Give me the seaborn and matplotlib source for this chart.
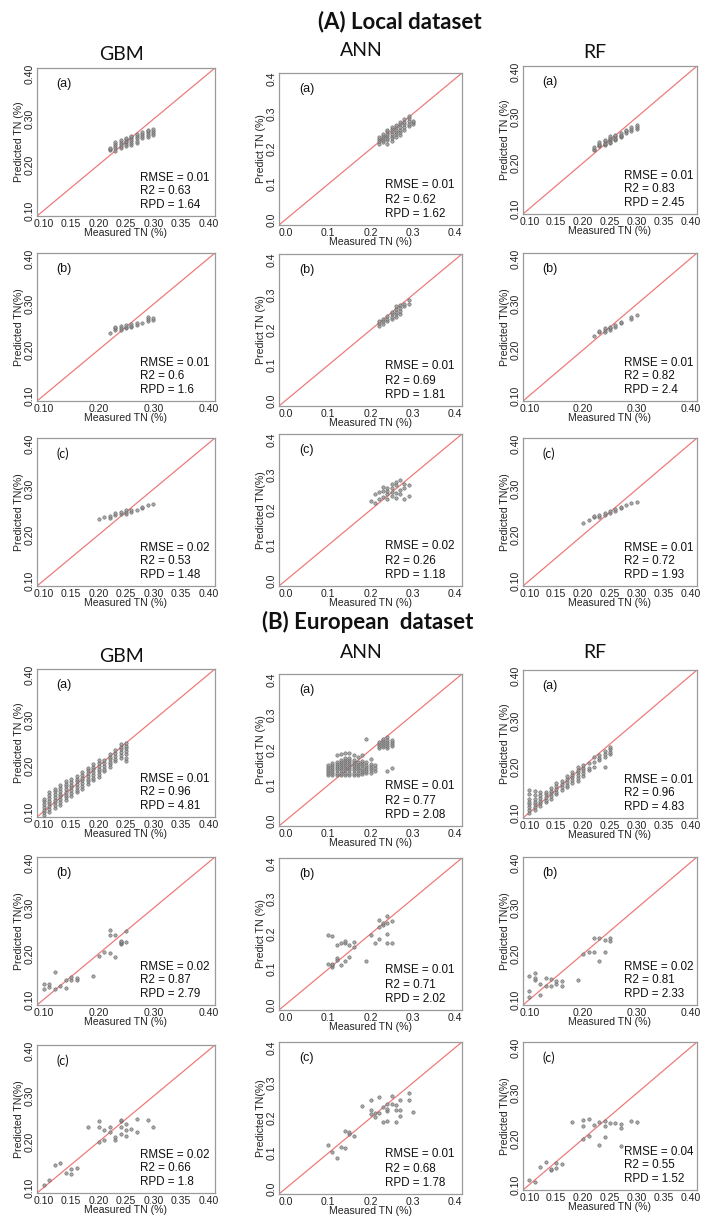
import numpy as np
import pandas as pd
import seaborn as sns
import matplotlib.pyplot as plt

# ---- data: measured TN (x) and predicted TN stacks (y) ----
# (A) local dataset
loc_gbm_a_x = [0.22, 0.23, 0.24, 0.25, 0.26, 0.27, 0.28, 0.29, 0.30]
loc_gbm_a_y = [[0.232, 0.235, 0.237], [0.230, 0.236, 0.241, 0.246, 0.251],
               [0.237, 0.241, 0.245, 0.249, 0.254], [0.241, 0.245, 0.249, 0.253, 0.256, 0.259],
               [0.244, 0.248, 0.252, 0.256, 0.260, 0.264], [0.248, 0.253, 0.258, 0.263, 0.267],
               [0.259, 0.263, 0.267, 0.271], [0.261, 0.266, 0.270, 0.274, 0.277],
               [0.266, 0.270, 0.274, 0.278]]
loc_ann_a_x = [0.22, 0.23, 0.24, 0.25, 0.26, 0.27, 0.28, 0.29, 0.30]
loc_ann_a_y = [[0.215, 0.222, 0.228, 0.234], [0.220, 0.226, 0.232, 0.238, 0.244],
               [0.215, 0.225, 0.232, 0.238, 0.244, 0.250, 0.255],
               [0.222, 0.230, 0.237, 0.243, 0.250, 0.256, 0.262],
               [0.235, 0.242, 0.248, 0.255, 0.262, 0.268], [0.240, 0.248, 0.255, 0.262, 0.270, 0.276],
               [0.255, 0.262, 0.270, 0.278, 0.285], [0.265, 0.272, 0.280, 0.288, 0.295],
               [0.272, 0.276, 0.280]]
loc_rf_a_x = [0.22, 0.23, 0.24, 0.25, 0.26, 0.27, 0.28, 0.29, 0.30]
loc_rf_a_y = [[0.228, 0.231, 0.234], [0.236, 0.239, 0.242, 0.245], [0.238, 0.241, 0.244, 0.247, 0.250],
              [0.243, 0.246, 0.249, 0.252, 0.255, 0.258], [0.249, 0.252, 0.255, 0.258, 0.261],
              [0.256, 0.259, 0.262, 0.265], [0.266, 0.269, 0.272], [0.270, 0.274, 0.278],
              [0.275, 0.279, 0.283]]
loc_gbm_b_x = [0.22, 0.23, 0.24, 0.25, 0.26, 0.27, 0.28, 0.29, 0.30]
loc_gbm_b_y = [[0.236], [0.243, 0.247, 0.250], [0.244, 0.248, 0.252], [0.247, 0.251, 0.255],
               [0.249, 0.253, 0.257], [0.255, 0.259], [0.258], [0.264, 0.268, 0.272], [0.266, 0.270]]
loc_ann_b_x = [0.22, 0.23, 0.24, 0.25, 0.26, 0.27, 0.28, 0.29]
loc_ann_b_y = [[0.212, 0.220, 0.226], [0.218, 0.225, 0.232], [0.225, 0.232, 0.240],
               [0.230, 0.238, 0.246, 0.252], [0.238, 0.245, 0.252, 0.260, 0.268],
               [0.245, 0.255, 0.262, 0.270], [0.268, 0.275], [0.275, 0.285]]
loc_rf_b_x = [0.22, 0.23, 0.24, 0.25, 0.26, 0.27, 0.29, 0.30]
loc_rf_b_y = [[0.231], [0.238, 0.242], [0.240, 0.244, 0.247], [0.244, 0.248, 0.251],
              [0.250, 0.254], [0.258, 0.262], [0.268, 0.272], [0.276]]
loc_gbm_c_x = [0.20, 0.21, 0.22, 0.23, 0.24, 0.25, 0.26, 0.27, 0.28, 0.29, 0.30]
loc_gbm_c_y = [[0.235], [0.240], [0.236, 0.241], [0.244, 0.248], [0.245, 0.250],
               [0.246, 0.250, 0.254], [0.250, 0.254], [0.255], [0.258, 0.262], [0.265], [0.268]]
loc_ann_c_x = [0.20, 0.21, 0.22, 0.23, 0.24, 0.25, 0.26, 0.27, 0.28, 0.29]
loc_ann_c_y = [[0.225], [0.220, 0.245], [0.232, 0.250], [0.238, 0.255, 0.265],
               [0.230, 0.245, 0.255, 0.262], [0.240, 0.250, 0.262, 0.275],
               [0.235, 0.248, 0.270, 0.280], [0.245, 0.258, 0.285], [0.230, 0.262, 0.275],
               [0.240, 0.270]]
loc_rf_c_x = [0.20, 0.21, 0.22, 0.23, 0.24, 0.25, 0.26, 0.27, 0.28, 0.29, 0.30]
loc_rf_c_y = [[0.226], [0.233], [0.238, 0.242], [0.240, 0.244], [0.243, 0.247], [0.248, 0.252],
              [0.253, 0.256], [0.258, 0.262], [0.266], [0.270], [0.272]]

# (B) European dataset
eu_x = [0.10, 0.11, 0.12, 0.13, 0.14, 0.15, 0.16, 0.17, 0.18, 0.19, 0.20, 0.21, 0.22, 0.23, 0.24, 0.25]
eu_gbm_a_y = [[0.092, 0.098, 0.104, 0.110, 0.116, 0.122, 0.128],
              [0.100, 0.106, 0.112, 0.118, 0.124, 0.130, 0.136, 0.142],
              [0.108, 0.114, 0.120, 0.126, 0.132, 0.138, 0.144, 0.150],
              [0.115, 0.121, 0.127, 0.133, 0.139, 0.145, 0.151, 0.157],
              [0.125, 0.131, 0.137, 0.143, 0.149, 0.155, 0.161, 0.166],
              [0.135, 0.141, 0.147, 0.153, 0.159, 0.165, 0.171],
              [0.142, 0.148, 0.154, 0.160, 0.166, 0.172, 0.178],
              [0.150, 0.156, 0.162, 0.168, 0.174, 0.180, 0.186],
              [0.160, 0.166, 0.172, 0.178, 0.184, 0.190, 0.196],
              [0.168, 0.174, 0.180, 0.186, 0.192, 0.198, 0.205],
              [0.176, 0.182, 0.188, 0.194, 0.200, 0.206, 0.212],
              [0.188, 0.194, 0.200, 0.206, 0.212],
              [0.198, 0.203, 0.208, 0.214, 0.220, 0.226],
              [0.210, 0.216, 0.222, 0.228, 0.234],
              [0.218, 0.224, 0.230, 0.236, 0.242, 0.247],
              [0.210, 0.218, 0.226, 0.232, 0.238, 0.244, 0.250]]
eu_ann_a_y = [[0.128, 0.134, 0.140, 0.146, 0.152, 0.158],
              [0.128, 0.134, 0.140, 0.146, 0.152, 0.158, 0.164],
              [0.130, 0.136, 0.142, 0.148, 0.154, 0.160, 0.166, 0.186],
              [0.130, 0.136, 0.142, 0.148, 0.154, 0.160, 0.166, 0.172, 0.190],
              [0.130, 0.136, 0.142, 0.148, 0.154, 0.160, 0.166, 0.172, 0.178, 0.192],
              [0.130, 0.136, 0.142, 0.148, 0.154, 0.160, 0.166, 0.172, 0.178, 0.192],
              [0.130, 0.136, 0.142, 0.148, 0.154, 0.160, 0.166, 0.172, 0.186],
              [0.130, 0.136, 0.142, 0.148, 0.154, 0.160, 0.166, 0.180],
              [0.132, 0.138, 0.144, 0.150, 0.156, 0.162, 0.168, 0.186],
              [0.134, 0.140, 0.146, 0.152, 0.158, 0.166, 0.230],
              [0.136, 0.142, 0.148, 0.154, 0.160, 0.175],
              [0.140, 0.148, 0.156],
              [0.205, 0.212, 0.218, 0.224],
              [0.208, 0.214, 0.220, 0.226, 0.232],
              [0.140, 0.205, 0.211, 0.217, 0.223, 0.229, 0.236],
              [0.150, 0.210, 0.216, 0.222, 0.228]]
eu_rf_a_y = [[0.100, 0.106, 0.112, 0.118, 0.124, 0.130, 0.140, 0.150],
             [0.106, 0.112, 0.118, 0.124, 0.130, 0.138, 0.148],
             [0.114, 0.120, 0.126, 0.132, 0.138, 0.144],
             [0.122, 0.128, 0.134, 0.140, 0.146],
             [0.130, 0.136, 0.142, 0.148, 0.154],
             [0.140, 0.146, 0.152, 0.158, 0.164],
             [0.150, 0.156, 0.162, 0.168],
             [0.155, 0.161, 0.167, 0.173, 0.179],
             [0.165, 0.171, 0.177, 0.183, 0.189],
             [0.170, 0.176, 0.182, 0.188, 0.194, 0.200],
             [0.180, 0.186, 0.192, 0.198, 0.204],
             [0.192, 0.198, 0.208],
             [0.200, 0.210, 0.222],
             [0.214, 0.220, 0.226],
             [0.200, 0.222, 0.228, 0.234],
             [0.228, 0.233, 0.238, 0.243]]
eu_gbm_b_x = [0.10, 0.11, 0.12, 0.13, 0.14, 0.15, 0.16, 0.19, 0.20, 0.21, 0.22, 0.23, 0.24, 0.25]
eu_gbm_b_y = [[0.123, 0.133], [0.128, 0.133], [0.123, 0.161], [0.130], [0.126, 0.142],
              [0.143, 0.150], [0.143, 0.148], [0.152], [0.195], [0.204], [0.202, 0.241, 0.252],
              [0.193, 0.241], [0.221, 0.224, 0.226, 0.229], [0.225, 0.251]]
eu_ann_b_x = [0.10, 0.11, 0.12, 0.13, 0.14, 0.15, 0.16, 0.19, 0.20, 0.21, 0.22, 0.23, 0.24, 0.25]
eu_ann_b_y = [[0.116, 0.197], [0.107, 0.112, 0.116, 0.193], [0.127, 0.131, 0.169], [0.112, 0.174],
              [0.124, 0.174, 0.181], [0.136, 0.169], [0.164, 0.178], [0.124], [0.197], [0.174],
              [0.186, 0.221, 0.239], [0.225, 0.230], [0.174, 0.200, 0.230, 0.252], [0.174, 0.236]]
eu_rf_b_x = [0.10, 0.11, 0.12, 0.13, 0.14, 0.15, 0.16, 0.19, 0.20, 0.21, 0.22, 0.23, 0.24, 0.25]
eu_rf_b_y = [[0.105, 0.119, 0.151], [0.143, 0.148, 0.157], [0.109, 0.134], [0.130, 0.148],
             [0.130, 0.145], [0.134, 0.141], [0.130, 0.141], [0.143], [0.200], [0.205],
             [0.203, 0.234], [0.185, 0.234], [0.203, 0.230], [0.228, 0.235]]
eu_gbm_c_x = [0.10, 0.11, 0.12, 0.13, 0.14, 0.15, 0.16, 0.18, 0.20, 0.21, 0.22, 0.23, 0.24,
              0.25, 0.26, 0.27, 0.29, 0.30]
eu_gbm_c_y = [[0.106], [0.116], [0.150], [0.153], [0.131], [0.129, 0.140], [0.143], [0.232],
              [0.200, 0.232, 0.245], [0.204, 0.226], [0.222, 0.233], [0.204, 0.211],
              [0.218, 0.233, 0.245, 0.248], [0.213, 0.226, 0.240], [0.228], [0.221, 0.251],
              [0.247], [0.233]]
eu_ann_c_x = [0.10, 0.11, 0.12, 0.13, 0.14, 0.15, 0.16, 0.18, 0.20, 0.21, 0.22, 0.23, 0.24,
              0.25, 0.26, 0.27, 0.29, 0.30]
eu_ann_c_y = [[0.123], [0.103], [0.086], [0.118], [0.114, 0.163], [0.154, 0.159], [0.148], [0.234],
              [0.210, 0.224, 0.252], [0.203, 0.215], [0.213, 0.260], [0.189, 0.230],
              [0.192, 0.220, 0.227, 0.241], [0.241, 0.262], [0.189, 0.224, 0.238],
              [0.207, 0.224, 0.252], [0.252, 0.271], [0.218]]
eu_rf_c_x = [0.10, 0.11, 0.12, 0.13, 0.14, 0.15, 0.16, 0.18, 0.20, 0.21, 0.22, 0.23, 0.24,
             0.25, 0.26, 0.27, 0.29, 0.30]
eu_rf_c_y = [[0.110], [0.106], [0.138], [0.149], [0.131, 0.135], [0.137, 0.147], [0.144], [0.237],
             [0.200, 0.229, 0.241], [0.207, 0.243], [0.231], [0.187, 0.236], [0.205, 0.229, 0.239],
             [0.234], [0.234], [0.184, 0.224, 0.232], [0.239], [0.236]]

# RMSE, R2, RPD for rows (a), (b), (c)
loc_gbm_stats = [("0.01", "0.63", "1.64"), ("0.01", "0.6", "1.6"), ("0.02", "0.53", "1.48")]
loc_ann_stats = [("0.01", "0.62", "1.62"), ("0.01", "0.69", "1.81"), ("0.02", "0.26", "1.18")]
loc_rf_stats = [("0.01", "0.83", "2.45"), ("0.01", "0.82", "2.4"), ("0.01", "0.72", "1.93")]
eu_gbm_stats = [("0.01", "0.96", "4.81"), ("0.02", "0.87", "2.79"), ("0.02", "0.66", "1.8")]
eu_ann_stats = [("0.01", "0.77", "2.08"), ("0.01", "0.71", "2.02"), ("0.01", "0.68", "1.78")]
eu_rf_stats = [("0.01", "0.96", "4.83"), ("0.02", "0.81", "2.33"), ("0.04", "0.55", "1.52")]

models = ["GBM", "ANN", "RF"]
row_tags = ["(a)", "(b)", "(c)"]


def stack_df(xs, ys):
    rows = [(x, y) for x, col in zip(xs, ys) for y in col]
    return pd.DataFrame(rows, columns=["measured", "predicted"])


sns.set_style("white")
plt.rcParams['font.family'] = ['Liberation Sans', 'DejaVu Sans']
CAL = ["Lato", "DejaVu Sans"]  # stand-in for the Calibri headings

W, H = 713, 1221
fig = plt.figure(figsize=(W / 100, H / 100), dpi=100)

TICK_C = "#222222"
SPINE_C = "#9a9a9a"


def add_panel(left, top, w, h, model, tag, xs, ys, stats, ylab, sparse_x):
    ax = fig.add_axes([left / W, 1 - (top + h) / H, w / W, h / H])
    df = stack_df(xs, ys)
    sns.scatterplot(data=df, x="measured", y="predicted", ax=ax, s=6, marker="o",
                    color="#9a9a9a", edgecolor="#555555", linewidth=0.4, alpha=0.85, zorder=3)
    if model == "ANN":
        lo, hi = -0.016, 0.416
        ticks = [0.0, 0.1, 0.2, 0.3, 0.4]
        xlabs = ["0.0", "0.1", "0.2", "0.3", "0.4"]
        ylabs = xlabs
    else:
        lo, hi = 0.088, 0.412
        ticks = [0.10, 0.15, 0.20, 0.25, 0.30, 0.35, 0.40]
        xlabs = ["0.10", "0.15", "0.20", "0.25", "0.30", "0.35", "0.40"]
        ylabs = ["0.10", "", "0.20", "", "0.30", "", "0.40"]
        if sparse_x:
            xlabs = ylabs
    ax.plot([lo, hi], [lo, hi], color="#ee7b7b", lw=0.9, zorder=2)
    ax.set_xlim(lo, hi)
    ax.set_ylim(lo, hi)
    ax.set_xticks(ticks)
    ax.set_yticks(ticks)
    ax.set_xticklabels(xlabs)
    ax.set_yticklabels(ylabs, rotation=90, va="center")
    ax.tick_params(axis="both", direction="out", length=2.5, width=0.6, color=SPINE_C,
                   labelsize=7.6, labelcolor=TICK_C, pad=-0.5)
    for s in ax.spines.values():
        s.set_color(SPINE_C)
        s.set_linewidth(0.9)
    ax.set_xlabel("Measured TN (%)", fontsize=7.6, color=TICK_C, labelpad=-0.5)
    ax.set_ylabel(ylab, fontsize=7.6, color=TICK_C, labelpad=0)
    tag_font = CAL if (tag == "(c)" and model != "ANN") else ['Liberation Sans', 'DejaVu Sans']
    ax.text(0.11, 0.895, tag, transform=ax.transAxes, fontsize=9, color="#111111",
            ha="left", va="center", family=tag_font)
    rmse, r2, rpd = stats
    for i, line in enumerate(["RMSE = " + rmse, "R2 = " + r2, "RPD = " + rpd]):
        ax.text(0.58, 0.26 - i * 0.093, line, transform=ax.transAxes, fontsize=8.4,
                color="#111111", ha="left", va="center")
    return ax


col_left = [37, 279, 523]
col_w = [178, 183, 174]
head_x = [121, 361, 595]

sections = [
    dict(title="(A) Local dataset", title_x=400, title_y=22, head_y=[55, 50, 52],
         tops={"GBM": [68, 253, 438], "ANN": [73, 254, 434], "RF": [66, 253, 438]},
         data={"GBM": [(loc_gbm_a_x, loc_gbm_a_y), (loc_gbm_b_x, loc_gbm_b_y), (loc_gbm_c_x, loc_gbm_c_y)],
               "ANN": [(loc_ann_a_x, loc_ann_a_y), (loc_ann_b_x, loc_ann_b_y), (loc_ann_c_x, loc_ann_c_y)],
               "RF": [(loc_rf_a_x, loc_rf_a_y), (loc_rf_b_x, loc_rf_b_y), (loc_rf_c_x, loc_rf_c_y)]},
         stats={"GBM": loc_gbm_stats, "ANN": loc_ann_stats, "RF": loc_rf_stats}),
    dict(title="(B) European  dataset", title_x=368, title_y=622, head_y=[657, 652, 653],
         tops={"GBM": [669, 857, 1045], "ANN": [674, 858, 1042], "RF": [670, 857, 1042]},
         data={"GBM": [(eu_x, eu_gbm_a_y), (eu_gbm_b_x, eu_gbm_b_y), (eu_gbm_c_x, eu_gbm_c_y)],
               "ANN": [(eu_x, eu_ann_a_y), (eu_ann_b_x, eu_ann_b_y), (eu_ann_c_x, eu_ann_c_y)],
               "RF": [(eu_x, eu_rf_a_y), (eu_rf_b_x, eu_rf_b_y), (eu_rf_c_x, eu_rf_c_y)]},
         stats={"GBM": eu_gbm_stats, "ANN": eu_ann_stats, "RF": eu_rf_stats}),
]

box_h = {"GBM": 148, "ANN": 152, "RF": 148}

ylabel_map = {
    "GBM": ["Predicted TN (%)", "Predicted TN(%)", "Predicted TN(%)"],
    "ANN": ["Predict TN (%)", "Predict TN (%)", "Predicted TN(%)"],
    "RF": ["Predicted TN (%)", "Predicted TN(%)", "Predicted TN(%)"],
}

for sec in sections:
    fig.text(sec["title_x"] / W, 1 - sec["title_y"] / H, sec["title"], ha="center", va="center",
             fontsize=16, fontweight="bold", family=CAL, color="#111111")
    for c, m in enumerate(models):
        fig.text(head_x[c] / W, 1 - sec["head_y"][c] / H, m, ha="center", va="center",
                 fontsize=14, family=CAL, color="#111111")
        for r in range(3):
            xs, ys = sec["data"][m][r]
            add_panel(col_left[c], sec["tops"][m][r], col_w[c], box_h[m], m, row_tags[r], xs, ys,
                      sec["stats"][m][r], ylabel_map[m][r], sparse_x=(r == 1))

fig.savefig("out.png", dpi=100)
